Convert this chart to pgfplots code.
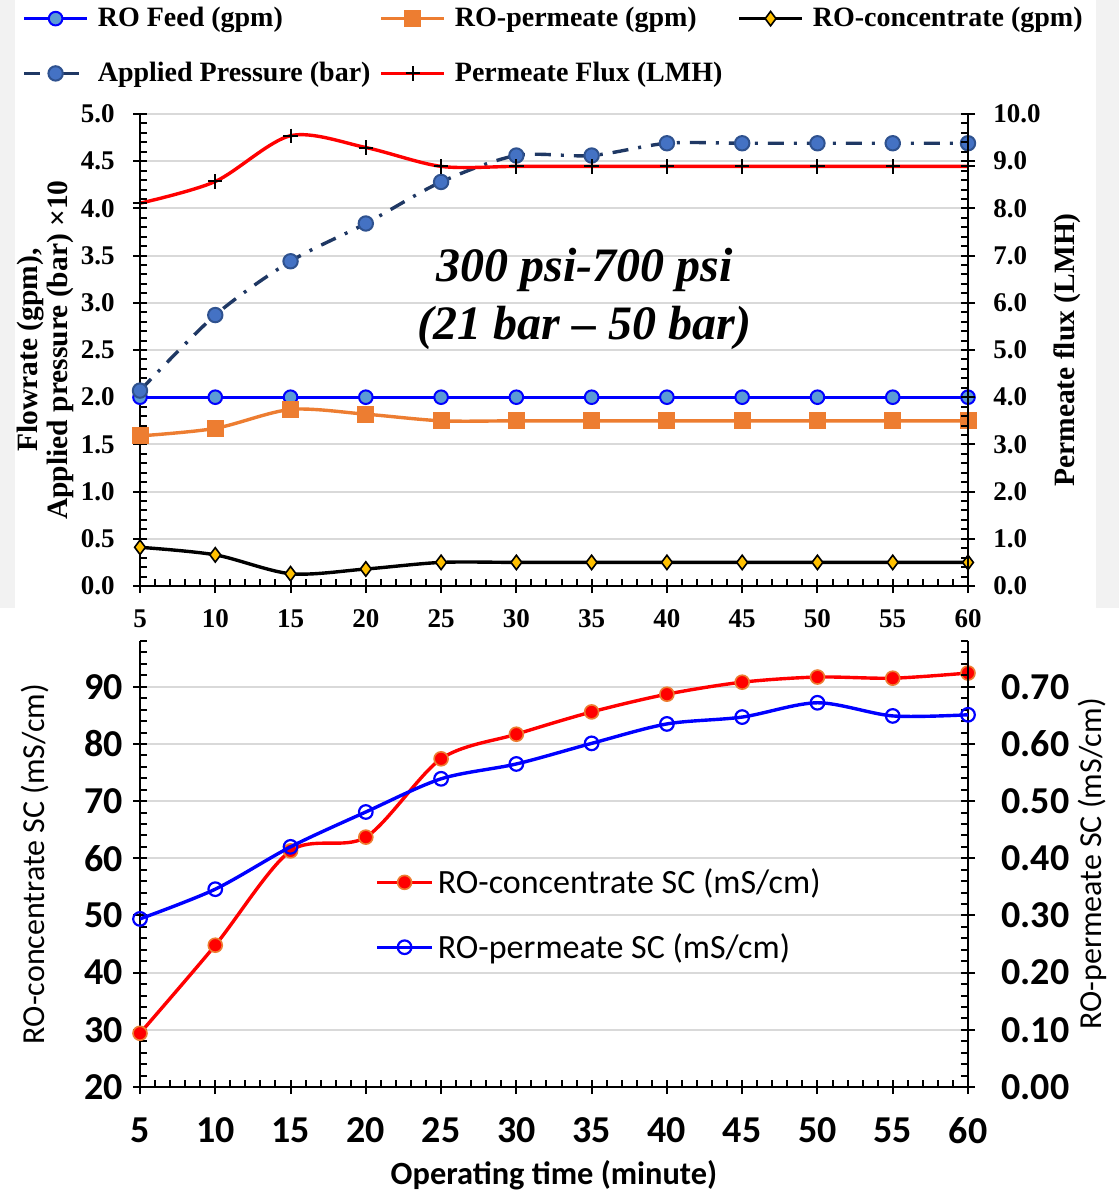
\documentclass[border=0pt]{standalone}
\usepackage{pgfplots}
\pgfplotsset{compat=1.18}
\usepackage{fontspec}
\setmainfont{Liberation Serif}
\newfontfamily\carlito{Carlito}

\definecolor{feedfill}{HTML}{5B9BD5}
\definecolor{permorange}{HTML}{ED7D31}
\definecolor{concgold}{HTML}{FFC000}
\definecolor{pressline}{HTML}{1F3864}
\definecolor{pressfill}{HTML}{4472C4}
\definecolor{pressedge}{HTML}{2F528F}
\definecolor{gridgray}{HTML}{D9D9D9}
\definecolor{panelgray}{HTML}{F2F2F2}

\pgfplotsset{
  panel/.style={
    scale only axis, width=414pt,
    xmin=5, xmax=60,
    xtick={5,10,...,60}, minor x tick num=4,
    tick align=inside,
    major tick length=3.5pt, minor tick length=3.5pt,
    tick style={black, line width=1pt},
    axis line style={-, black, line width=1.2pt},
    /pgf/number format/assume math mode=true,
  },
  fluxstyle/.style={red, line width=1.7pt, smooth, mark=+, mark size=3.6pt,
    mark options={black, line width=1pt, solid}},
  permscstyle/.style={blue, line width=1.7pt, smooth, mark=o, mark size=3.4pt,
    mark options={blue, fill=white, line width=1.1pt, solid}},
}

\begin{document}
\begin{tikzpicture}
% page background with the grey margins of the upper panel
\fill[white] (0,0) rectangle (559.5pt,-596pt);
\fill[panelgray] (0,0) rectangle (7.5pt,-304pt);
\fill[panelgray] (548pt,0) rectangle (559.5pt,-304pt);

% ---------------- upper panel: flow rates and pressure ----------------
\begin{axis}[panel,
  at={(70pt,-293pt)}, anchor=south west, height=236pt,
  ymin=0, ymax=5, ytick={0,0.5,...,5}, minor y tick num=4,
  axis x line*=bottom, axis y line*=left,
  ymajorgrids, major grid style={gridgray, line width=1pt},
  extra x ticks={5,10,...,60}, extra x tick labels={},
  extra y ticks={0,0.5,...,5}, extra y tick labels={},
  extra tick style={tick align=outside, grid=none},
  ticklabel style={font=\bfseries\fontsize{13.5}{16}\selectfont, inner sep=0pt},
  xticklabel style={anchor=north, yshift=-11.5pt},
  yticklabel style={anchor=east, xshift=-12.5pt,
    /pgf/number format/fixed, /pgf/number format/fixed zerofill,
    /pgf/number format/precision=1},
  ylabel={Flowrate (gpm),\\Applied pressure (bar) ×10},
  ylabel style={at={(axis description cs:-0.1147,0.5)}, anchor=center,
    align=center, font=\bfseries\fontsize{14.75}{15}\selectfont},
  legend columns=3, legend cell align=left,
  legend style={at={(axis description cs:-0.1425,1.2267)}, anchor=north west,
    draw=none, fill=none, inner sep=0pt,
    nodes={inner sep=0pt, font=\bfseries\fontsize{14}{16}\selectfont},
    row sep=16.2pt,
    /tikz/every odd column/.append style={column sep=4.5pt},
    /tikz/column 2/.style={column sep=4.5pt},
    /tikz/column 4/.style={column sep=7.5pt}},
  legend image code/.code={\draw[mark repeat=2,mark phase=2,#1]
    plot coordinates {(0pt,0pt)(15.75pt,0pt)(31.5pt,0pt)};},
]
\addplot[blue, line width=1.7pt, mark=*, mark size=3.4pt,
  mark options={fill=feedfill, draw=blue, line width=1pt}]
  coordinates {(5,2.0)(10,2.0)(15,2.0)(20,2.0)(25,2.0)(30,2.0)
               (35,2.0)(40,2.0)(45,2.0)(50,2.0)(55,2.0)(60,2.0)};
\addlegendentry{RO Feed (gpm)}
\addplot[permorange, line width=1.7pt, smooth, mark=square*, mark size=3.4pt,
  mark options={fill=permorange, draw=permorange}]
  coordinates {(5,1.59)(10,1.67)(15,1.87)(20,1.82)(25,1.75)(30,1.75)
               (35,1.75)(40,1.75)(45,1.75)(50,1.75)(55,1.75)(60,1.75)};
\addlegendentry{RO-permeate (gpm)}
\addplot[black, line width=1.7pt, smooth, mark=diamond*, mark size=3.6pt,
  mark options={fill=concgold, draw=black, line width=0.8pt}]
  coordinates {(5,0.41)(10,0.33)(15,0.13)(20,0.18)(25,0.25)(30,0.25)
               (35,0.25)(40,0.25)(45,0.25)(50,0.25)(55,0.25)(60,0.25)};
\addlegendentry{RO-concentrate (gpm)}
\addplot[pressline, line width=1.7pt, smooth,
  dash pattern=on 8pt off 5pt on 1.5pt off 5pt,
  mark=*, mark size=3.6pt,
  mark options={solid, fill=pressfill, draw=pressedge, line width=1pt}]
  coordinates {(5,2.07)(10,2.87)(15,3.44)(20,3.84)(25,4.28)(30,4.56)
               (35,4.56)(40,4.69)(45,4.69)(50,4.69)(55,4.69)(60,4.69)};
\addlegendentry{Applied Pressure (bar)}
\addlegendimage{fluxstyle}
\addlegendentry{Permeate Flux (LMH)}
\node[font=\bfseries\itshape\fontsize{24}{28}\selectfont]
  at (axis description cs:0.537,0.6695) {300 psi-700 psi};
\node[font=\bfseries\itshape\fontsize{24}{28}\selectfont]
  at (axis description cs:0.537,0.5466) {(21 bar – 50 bar)};
\end{axis}

\begin{axis}[panel,
  at={(70pt,-293pt)}, anchor=south west, height=236pt,
  axis x line=none, axis y line*=right,
  ymin=0, ymax=10, ytick={0,1,...,10}, minor y tick num=4,
  extra y ticks={0,1,...,10}, extra y tick labels={},
  extra tick style={tick align=outside},
  ticklabel style={font=\bfseries\fontsize{13.5}{16}\selectfont, inner sep=0pt},
  yticklabel style={anchor=west, xshift=12.5pt,
    /pgf/number format/fixed, /pgf/number format/fixed zerofill,
    /pgf/number format/precision=1},
  ylabel={Permeate flux (LMH)},
  ylabel style={at={(axis description cs:1.1196,0.5)}, anchor=center,
    font=\bfseries\fontsize{14.75}{16}\selectfont},
]
\addplot[fluxstyle]
  coordinates {(5,8.11)(10,8.57)(15,9.54)(20,9.29)(25,8.89)(30,8.89)
               (35,8.89)(40,8.89)(45,8.89)(50,8.89)(55,8.89)(60,8.89)};
\end{axis}

% ---------------- lower panel: specific conductance ----------------
\begin{axis}[panel,
  at={(70pt,-543.5pt)}, anchor=south west, height=223pt,
  ymin=20, ymax=98, ytick={20,30,...,90}, minor ytick={20,22,...,98},
  axis x line*=bottom, axis y line*=left,
  ymajorgrids, major grid style={gridgray, line width=1pt},
  extra x ticks={5,10,...,60}, extra x tick labels={},
  extra y ticks={20,30,...,90}, extra y tick labels={},
  extra tick style={tick align=outside, grid=none},
  ticklabel style={font=\carlito\bfseries\fontsize{19}{22}\selectfont, inner sep=0pt},
  xticklabel style={anchor=north, yshift=-15pt},
  yticklabel style={anchor=east, xshift=-8.5pt},
  xlabel={Operating time (minute)},
  xlabel style={at={(axis description cs:0.5,-0.1985)}, anchor=center,
    font=\carlito\bfseries\fontsize{16.2}{18}\selectfont},
  ylabel={RO-concentrate SC (mS/cm)},
  ylabel style={at={(axis description cs:-0.1268,0.5)}, anchor=center,
    font=\carlito\fontsize{16}{18}\selectfont},
  legend cell align=left,
  legend style={at={(axis description cs:0.2838,0.4910)}, anchor=north west,
    draw=none, fill=none, inner sep=0pt,
    nodes={inner sep=0pt, font=\carlito\fontsize{17}{19}\selectfont},
    row sep=18.5pt,
    /tikz/every odd column/.append style={column sep=2pt}},
  legend image code/.code={\draw[mark repeat=2,mark phase=2,#1]
    plot coordinates {(0pt,0pt)(13.75pt,0pt)(27.5pt,0pt)};},
]
\addplot[red, line width=1.7pt, smooth, mark=*, mark size=3.5pt,
  mark options={fill=red, draw=permorange, line width=0.8pt}]
  coordinates {(5,29.4)(10,44.8)(15,61.3)(20,63.7)(25,77.4)(30,81.7)
               (35,85.6)(40,88.7)(45,90.8)(50,91.7)(55,91.5)(60,92.4)};
\addlegendentry{RO-concentrate SC (mS/cm)}
\addlegendimage{permscstyle}
\addlegendentry{RO-permeate SC (mS/cm)}
\end{axis}

\begin{axis}[panel,
  at={(70pt,-543.5pt)}, anchor=south west, height=223pt,
  axis x line=none, axis y line*=right,
  ymin=0, ymax=0.78, ytick={0,0.1,0.2,0.3,0.4,0.5,0.6,0.7},
  minor ytick={0,0.02,...,0.78},
  extra y ticks={0,0.1,0.2,0.3,0.4,0.5,0.6,0.7}, extra y tick labels={},
  extra tick style={tick align=outside},
  ticklabel style={font=\carlito\bfseries\fontsize{19}{22}\selectfont, inner sep=0pt},
  yticklabel style={anchor=west, xshift=16.5pt,
    /pgf/number format/fixed, /pgf/number format/fixed zerofill,
    /pgf/number format/precision=2},
  ylabel={RO-permeate SC (mS/cm)},
  ylabel style={at={(axis description cs:1.1498,0.5)}, anchor=center,
    font=\carlito\fontsize{16}{18}\selectfont},
]
\addplot[permscstyle]
  coordinates {(5,0.294)(10,0.346)(15,0.420)(20,0.481)(25,0.539)(30,0.565)
               (35,0.601)(40,0.635)(45,0.647)(50,0.672)(55,0.649)(60,0.651)};
\end{axis}

\pgfresetboundingbox
\useasboundingbox (0,0) rectangle (559.5pt,-596pt);
\end{tikzpicture}
\end{document}
